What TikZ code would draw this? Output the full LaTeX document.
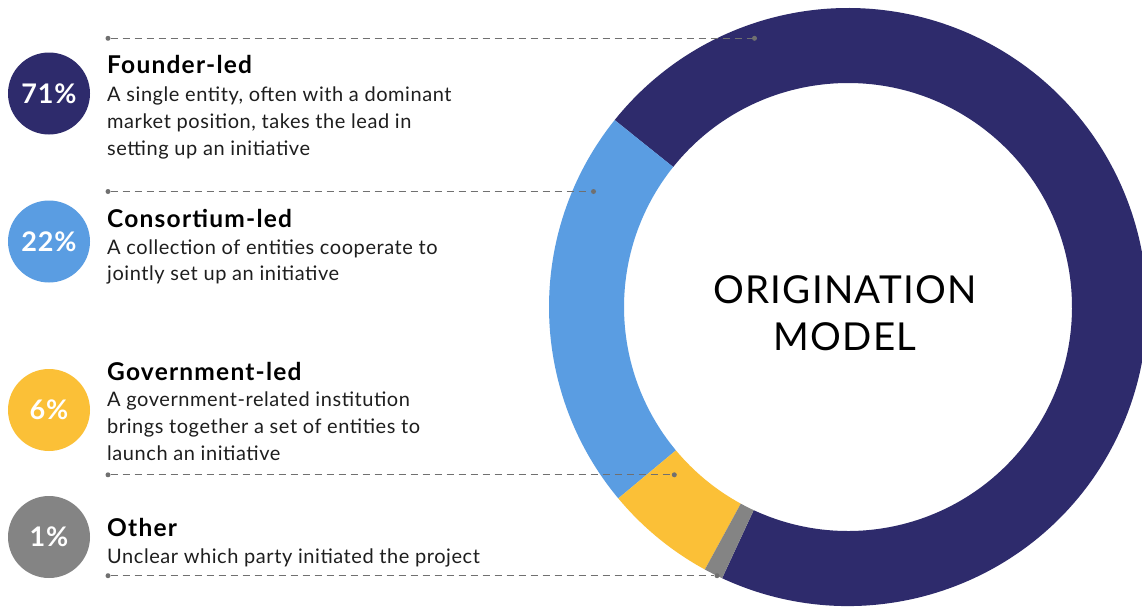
\documentclass[tikz,border=0pt]{standalone}
\usepackage{fontspec}
\setmainfont{Lato}
\definecolor{navy}{HTML}{2E2B6C}
\definecolor{skyb}{HTML}{5A9DE2}
\definecolor{gold}{HTML}{FBC037}
\definecolor{greyseg}{HTML}{848484}
\definecolor{leadc}{HTML}{707070}
\definecolor{bodyc}{HTML}{1E1E1E}
\tikzset{
  pct/.style={circle, minimum size=82pt, inner sep=0pt, text=white, font=\bfseries\fontsize{27}{27}\selectfont\addfontfeatures{LetterSpace=3}},
  ttl/.style={anchor=base west, inner sep=0pt, font=\bfseries\fontsize{24.5}{24.5}\selectfont\addfontfeatures{LetterSpace=5}, text=black},
  bdy/.style={anchor=base west, inner sep=0pt, font=\fontsize{20}{20}\selectfont\addfontfeatures{LetterSpace=2.8}, text=bodyc},
  dotn/.style={circle, fill=leadc, minimum size=5pt, inner sep=0pt},
  leader/.style={draw=leadc, line width=1.2pt, dash pattern=on 7pt off 5pt},
  ctr/.style={inner sep=0pt, font=\fontsize{38.5}{38.5}\selectfont\addfontfeatures{LetterSpace=3.3}, text=black}
}
\newcommand{\seg}[3]{%
  \fill[#1] ($(C)+(#2:299)$) arc[start angle=#2, end angle=#3, radius=299]
    -- ($(C)+(#3:224)$) arc[start angle=#3, end angle=#2, radius=224] -- cycle;}
\usetikzlibrary{calc}
\begin{document}
\begin{tikzpicture}[x=1pt,y=1pt]
\useasboundingbox (0,0) rectangle (1142,-608);
\clip (0,0) rectangle (1142,-608);
\fill[white] (0,0) rectangle (1142,-608);
\coordinate (C) at (848,-307);
% donut
\seg{navy}{-114.9}{141.3}
\seg{skyb}{141.3}{219.8}
\seg{gold}{219.8}{241.4}
\seg{greyseg}{241.4}{245.1}
\node[ctr] (ct1) at (845,-290) {ORIGINATION};
\node[ctr] (ct2) at (845,-337) {MODEL};
% percentage circles
\node[pct, fill=navy] (p1) at (49,-93.5) {71\%};
\node[pct, fill=skyb] (p2) at (49,-241.5) {22\%};
\node[pct, fill=gold] (p3) at (49,-410) {6\%};
\node[pct, fill=greyseg] (p4) at (49,-537) {1\%};
% Founder-led
\node[ttl] (t1) at (107,-73.3) {Founder-led};
\node[bdy] (b11) at (107,-101) {A single entity, often with a dominant};
\node[bdy] (b12) at (107,-128.3) {market position, takes the lead in};
\node[bdy] (b13) at (107,-155.5) {setting up an initiative};
% Consortium-led
\node[ttl] (t2) at (107,-227.7) {Consortium-led};
\node[bdy] (b21) at (107,-254) {A collection of entities cooperate to};
\node[bdy] (b22) at (107,-280.5) {jointly set up an initiative};
% Government-led
\node[ttl] (t3) at (107,-380) {Government-led};
\node[bdy] (b31) at (107,-406.7) {A government-related institution};
\node[bdy] (b32) at (107,-433.3) {brings together a set of entities to};
\node[bdy] (b33) at (107,-460) {launch an initiative};
% Other
\node[ttl] (t4) at (107,-536.7) {Other};
\node[bdy] (b41) at (107,-563.3) {Unclear which party initiated the project};
% leaders
\node[dotn] (l1a) at (108,-38.3) {};
\node[dotn] (l1b) at (754.5,-38.3) {};
\node[dotn] (l2a) at (108,-191.5) {};
\node[dotn] (l2b) at (593.5,-191.5) {};
\node[dotn] (l3a) at (108,-474.8) {};
\node[dotn] (l3b) at (674.3,-474.8) {};
\node[dotn] (l4a) at (108,-575.7) {};
\node[dotn] (l4b) at (717,-575.7) {};
\draw[leader] (l1a) -- (l1b);
\draw[leader] (l2a) -- (l2b);
\draw[leader] (l3a) -- (l3b);
\draw[leader] (l4a) -- (l4b);
\end{tikzpicture}
\end{document}
